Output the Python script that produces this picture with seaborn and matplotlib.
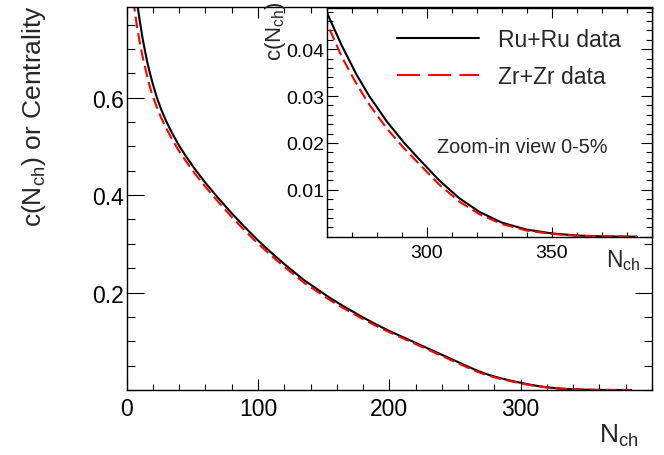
import numpy as np
import pandas as pd
import matplotlib
matplotlib.use("Agg")
import matplotlib.pyplot as plt
from matplotlib.lines import Line2D
from matplotlib.ticker import MultipleLocator, FixedLocator
import seaborn as sns

# values
nch = [5, 8, 10, 12, 14, 16, 18, 20, 23, 26, 30, 35, 40, 45, 52, 60, 69, 80,
       90, 100, 110, 120, 135, 155, 165, 180, 190, 200, 215, 230, 245, 255,
       260, 266, 272, 277, 284, 291, 297, 305, 313, 321, 330, 340, 350, 360,
       370, 384]
c_ru = [0.860, 0.793, 0.757, 0.723, 0.695, 0.669, 0.647, 0.627, 0.600, 0.5775,
        0.552, 0.525, 0.501, 0.480, 0.453, 0.425, 0.396, 0.3625, 0.334, 0.307,
        0.282, 0.2585, 0.2255, 0.1885, 0.172, 0.1488, 0.1346, 0.1211, 0.1028,
        0.0845, 0.0662, 0.0540, 0.0479, 0.0408, 0.0345, 0.0300, 0.0246, 0.0200,
        0.0165, 0.0120, 0.0082, 0.0053, 0.0030, 0.0015, 0.0007, 0.00025,
        0.00007, 0.0]
c_zr = [0.800, 0.743, 0.713, 0.6855, 0.6625, 0.639, 0.6185, 0.602, 0.580, 0.560,
        0.5375, 0.5125, 0.4898, 0.470, 0.4438, 0.4168, 0.3883, 0.355, 0.327,
        0.3005, 0.276, 0.2528, 0.2203, 0.184, 0.168, 0.1454, 0.1315, 0.1186,
        0.1004, 0.0821, 0.0638, 0.0516, 0.0457, 0.0384, 0.0325, 0.0282, 0.0231,
        0.0188, 0.0155, 0.0111, 0.0075, 0.0048, 0.0027, 0.0013, 0.0006, 0.0002,
        0.00005, 0.0]

main_xticks = [0, 100, 200, 300]
main_yticks = [0.2, 0.4, 0.6]
inset_xticks = [300, 350]
inset_yticks = [0.01, 0.02, 0.03, 0.04]
labels = ["Ru+Ru data", "Zr+Zr data"]

df = pd.DataFrame({"nch": nch, "ru": c_ru, "zr": c_zr})

sns.set_style("ticks")
plt.rcParams["font.family"] = ["Liberation Sans", "DejaVu Sans"]
plt.rcParams["mathtext.fontset"] = "custom"
plt.rcParams["mathtext.rm"] = "Liberation Sans"
plt.rcParams["mathtext.it"] = "Liberation Sans:italic"

W, H = 664, 456
fig = plt.figure(figsize=(W / 100, H / 100), dpi=100)


def fx(px):
    return px / W


def fy(py):
    return 1 - py / H


ax = fig.add_axes([fx(126.7), fy(391), fx(652) - fx(126.7), fy(7.5) - fy(391)])
axi = fig.add_axes([fx(326.7), fy(237.7), fx(652) - fx(326.7), fy(8.5) - fy(237.7)])

red_dash = (0, (5.5, 2.5))

for a in (ax, axi):
    sns.lineplot(data=df, x="nch", y="ru", ax=a, color="black", linewidth=1.5,
                 sort=False, estimator=None)
    sns.lineplot(data=df, x="nch", y="zr", ax=a, color="#ff0000", linewidth=1.5,
                 sort=False, estimator=None, linestyle=red_dash)
    a.set_xlabel("")
    a.set_ylabel("")
    for s in a.spines.values():
        s.set_visible(True)
        s.set_linewidth(1.0)
        s.set_color("black")
    a.tick_params(which="both", direction="in", top=True, right=True,
                  colors="black", width=0.8)

# main axes
ax.set_xlim(0, 400)
ax.set_ylim(0, 0.787)
ax.xaxis.set_major_locator(FixedLocator(main_xticks))
ax.xaxis.set_minor_locator(MultipleLocator(20))
ax.yaxis.set_major_locator(FixedLocator(main_yticks))
ax.yaxis.set_minor_locator(MultipleLocator(0.05))
ax.tick_params(axis="x", which="major", length=8, labelsize=16.5, pad=5)
ax.tick_params(axis="x", which="minor", length=4)
ax.tick_params(axis="y", which="major", length=12, labelsize=16.5, pad=2)
ax.tick_params(axis="y", which="minor", length=6)

# inset axes
axi.set_facecolor("white")
axi.set_xlim(260, 390)
axi.set_ylim(0, 0.0489)
axi.xaxis.set_major_locator(FixedLocator(inset_xticks))
axi.xaxis.set_minor_locator(MultipleLocator(10))
axi.yaxis.set_major_locator(FixedLocator(inset_yticks))
axi.yaxis.set_minor_locator(MultipleLocator(0.002))
axi.tick_params(axis="x", which="major", length=7, labelsize=14, pad=5)
axi.tick_params(axis="x", which="minor", length=3.5)
axi.tick_params(axis="y", which="major", length=8, labelsize=14, pad=2)
axi.tick_params(axis="y", which="minor", length=4)

# legend uses longer dashes, as in the original
handles = [Line2D([], [], color="black", linewidth=1.5),
           Line2D([], [], color="#ff0000", linewidth=1.5, linestyle=(0, (11, 4)))]
axi.legend(handles, labels, loc="upper left", bbox_to_anchor=(fx(396.7), fy(29)),
           bbox_transform=fig.transFigure, frameon=False, fontsize=16.5,
           handlelength=3.6, handletextpad=0.8, labelspacing=0.62,
           borderpad=0, borderaxespad=0)

fig.text(fx(437), fy(153), "Zoom-in view 0-5%", fontsize=14.3, va="baseline", ha="left")

# axis titles, placed like the original
fig.text(fx(20), fy(5), "c(N$_{\\rm ch}$) or Centrality", rotation=90,
         fontsize=19, ha="left", va="top")
fig.text(fx(599), fy(443), "N$_{\\rm ch}$", fontsize=19, ha="left", va="baseline")
fig.text(fx(605.7), fy(266.7), "N$_{\\rm ch}$", fontsize=16.5, ha="left", va="baseline")
fig.text(fx(263), fy(1), "c(N$_{\\rm ch}$)", rotation=90, fontsize=16, ha="left", va="top")

fig.savefig("out.png", dpi=100)
